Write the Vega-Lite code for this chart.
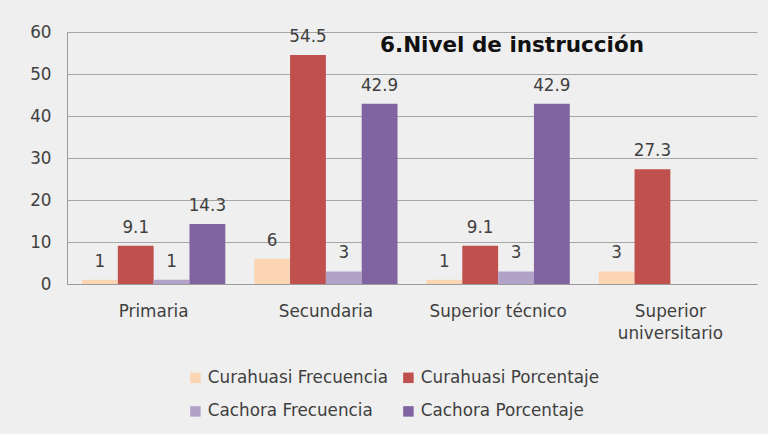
{
  "$schema": "https://vega.github.io/schema/vega-lite/v6.json",
  "width": 690,
  "height": 252,
  "autosize": {"type": "none"},
  "padding": {"left": 67, "top": 32, "right": 11, "bottom": 150},
  "background": "#efefef",
  "title": {
    "text": "6.Nivel de instrucción",
    "orient": "top",
    "anchor": "start",
    "frame": "group",
    "dx": 313,
    "dy": 32,
    "offset": 0,
    "font": "DejaVu Sans",
    "fontSize": 21.5,
    "fontWeight": "bold",
    "color": "#111111"
  },
  "data": {
    "values": [
      {"cat": "Primaria", "serie": "Curahuasi Frecuencia", "valor": 1},
      {"cat": "Primaria", "serie": "Curahuasi Porcentaje", "valor": 9.1},
      {"cat": "Primaria", "serie": "Cachora Frecuencia", "valor": 1},
      {"cat": "Primaria", "serie": "Cachora Porcentaje", "valor": 14.3},
      {"cat": "Secundaria", "serie": "Curahuasi Frecuencia", "valor": 6},
      {"cat": "Secundaria", "serie": "Curahuasi Porcentaje", "valor": 54.5},
      {"cat": "Secundaria", "serie": "Cachora Frecuencia", "valor": 3},
      {"cat": "Secundaria", "serie": "Cachora Porcentaje", "valor": 42.9},
      {"cat": "Superior técnico", "serie": "Curahuasi Frecuencia", "valor": 1},
      {"cat": "Superior técnico", "serie": "Curahuasi Porcentaje", "valor": 9.1},
      {"cat": "Superior técnico", "serie": "Cachora Frecuencia", "valor": 3},
      {"cat": "Superior técnico", "serie": "Cachora Porcentaje", "valor": 42.9},
      {"cat": "Superior universitario", "serie": "Curahuasi Frecuencia", "valor": 3},
      {"cat": "Superior universitario", "serie": "Curahuasi Porcentaje", "valor": 27.3}
    ]
  },
  "encoding": {
    "x": {
      "field": "cat",
      "type": "nominal",
      "sort": ["Primaria", "Secundaria", "Superior técnico", "Superior universitario"],
      "scale": {"paddingInner": 0.168, "paddingOuter": 0.087},
      "axis": {
        "title": null,
        "labelAngle": 0,
        "labelFont": "DejaVu Sans",
        "labelFontSize": 16.8,
        "labelColor": "#404040",
        "labelPadding": 19,
        "labelExpr": "datum.label == 'Superior universitario' ? ['Superior', 'universitario'] : datum.label",
        "labelLineHeight": 22,
        "domainColor": "#9a9a9a",
        "ticks": false,
        "grid": false
      }
    },
    "xOffset": {
      "field": "serie",
      "type": "nominal",
      "sort": ["Curahuasi Frecuencia", "Curahuasi Porcentaje", "Cachora Frecuencia", "Cachora Porcentaje"],
      "scale": {"paddingInner": 0, "paddingOuter": 0}
    },
    "y": {
      "field": "valor",
      "type": "quantitative",
      "scale": {"domain": [0, 60]},
      "axis": {
        "title": null,
        "values": [0, 10, 20, 30, 40, 50, 60],
        "labelFont": "DejaVu Sans",
        "labelFontSize": 16.8,
        "labelColor": "#404040",
        "labelPadding": 16,
        "ticks": false,
        "domainColor": "#9a9a9a",
        "gridColor": "#a6a6a6",
        "gridWidth": 1
      }
    }
  },
  "layer": [
    {
      "mark": {"type": "bar"},
      "encoding": {
        "color": {
          "field": "serie",
          "type": "nominal",
          "sort": ["Curahuasi Frecuencia", "Curahuasi Porcentaje", "Cachora Frecuencia", "Cachora Porcentaje"],
          "scale": {
            "domain": ["Curahuasi Frecuencia", "Curahuasi Porcentaje", "Cachora Frecuencia", "Cachora Porcentaje"],
            "range": ["#fcd5b5", "#c0504d", "#b3a2c7", "#8064a2"]
          },
          "legend": {
            "title": null,
            "orient": "none",
            "legendX": 120,
            "legendY": 337,
            "direction": "horizontal",
            "columns": 2,
            "symbolType": "square",
            "symbolSize": 110,
            "symbolStrokeWidth": 0,
            "labelFont": "DejaVu Sans",
            "labelFontSize": 16.8,
            "labelColor": "#404040",
            "columnPadding": 12,
            "rowPadding": 16,
            "labelLimit": 300
          }
        }
      }
    },
    {
      "mark": {"type": "text", "baseline": "bottom", "dy": -9, "font": "DejaVu Sans", "fontSize": 16.8, "color": "#404040"},
      "encoding": {
        "text": {"field": "valor", "type": "quantitative"}
      }
    }
  ],
  "config": {
    "view": {"stroke": null}
  }
}
